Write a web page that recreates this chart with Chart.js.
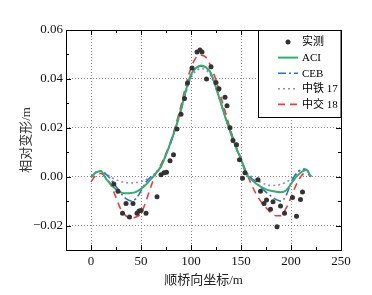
<!DOCTYPE html>
<html>
<head>
<meta charset="utf-8">
<title>相对变形</title>
<script src="https://cdn.jsdelivr.net/npm/chart.js"></script>
<style>
    body { margin: 0; background: #fff; }
    #wrap { width: 372px; height: 295px; }
</style>
</head>
<body>
<div id="wrap"><canvas id="deform" width="372" height="295"></canvas></div>
<script>
// measured points (实测)
const measuredX = [22.8, 27, 31.5, 35, 38.5, 42, 46, 48, 50, 55, 66, 70, 73, 75.5, 79, 82.5, 86, 90, 93.5, 96.5,
    101, 106, 109, 111, 115.5, 120, 125, 128, 134, 136, 139, 142, 145.5, 148.5, 151.5, 154, 167, 169.5, 173, 175.5,
    179.5, 182, 186, 189.5, 193.5, 201.5, 205.5, 209.5, 211.5];
const measuredY = [-0.003, -0.006, -0.015, -0.011, -0.0165, -0.011, -0.015, -0.014, -0.0138, -0.015, -0.0082, 0.0008,
    0.0016, 0.0018, 0.0065, 0.009, 0.0195, 0.0255, 0.032, 0.0383, 0.0445, 0.051, 0.0518, 0.051, 0.040, 0.045, 0.0385,
    0.036, 0.0325, 0.029, 0.020, 0.0148, 0.0131, 0.0069, -0.0006, 0.0016, -0.0013, -0.006, -0.011, -0.0095, -0.0133,
    -0.0103, -0.0205, -0.012, -0.015, -0.0085, -0.0162, -0.0093, -0.0063];

// computed curves, sampled along the bridge
const xNodes = [0, 5, 10, 15, 20, 25, 30, 35, 40, 45, 50, 55, 60, 65, 70, 75, 80, 85, 90, 95, 100, 105, 110,
    115, 120, 125, 130, 135, 140, 145, 150, 155, 160, 165, 170, 175, 180, 185, 190, 195, 200, 205, 210, 215, 220];
const aci = [-0.0003, 0.0017, 0.0022, -0.0008, -0.0032, -0.0052, -0.0064, -0.0068, -0.0067, -0.0062, -0.0050, -0.0032,
    -0.0010, 0.0014, 0.0042, 0.0090, 0.0145, 0.0205, 0.0275, 0.0355, 0.0418, 0.0445, 0.0455, 0.0447, 0.0423, 0.0365,
    0.0300, 0.0235, 0.0175, 0.0120, 0.0072, 0.0014, -0.0010, -0.0028, -0.0042, -0.0052, -0.0058, -0.0062, -0.0064,
    -0.0057, -0.0030, -0.0002, 0.0017, 0.0027, 0.0000];
const ceb = [-0.0002, 0.0018, 0.0023, 0.0010, -0.0012, -0.0040, -0.0068, -0.0090, -0.0099, -0.0090, -0.0058, -0.0022,
    0.0000, 0.0016, 0.0042, 0.0090, 0.0143, 0.0204, 0.0273, 0.0352, 0.0413, 0.0443, 0.0452, 0.0445, 0.0420, 0.0364,
    0.0300, 0.0235, 0.0175, 0.0119, 0.0072, 0.0018, -0.0005, -0.0022, -0.0045, -0.0063, -0.0080, -0.0093, -0.0100,
    -0.0078, -0.0025, 0.0012, 0.0028, 0.0030, 0.0000];
const zt17 = [0.0000, 0.0018, 0.0024, 0.0012, -0.0002, -0.0012, -0.0020, -0.0025, -0.0026, -0.0024, -0.0020, -0.0012,
    -0.0003, 0.0014, 0.0040, 0.0088, 0.0140, 0.0200, 0.0270, 0.0345, 0.0405, 0.0433, 0.0442, 0.0436, 0.0412, 0.0360,
    0.0298, 0.0234, 0.0175, 0.0118, 0.0072, 0.0022, 0.0002, -0.0012, -0.0024, -0.0032, -0.0036, -0.0035, -0.0031,
    -0.0022, -0.0010, 0.0008, 0.0028, 0.0032, 0.0000];
const zj18 = [-0.0021, 0.0006, 0.0013, -0.0005, -0.0035, -0.0085, -0.0135, -0.0160, -0.0170, -0.0165, -0.0150, -0.0100,
    -0.0040, 0.0015, 0.0050, 0.0095, 0.0148, 0.0215, 0.0290, 0.0375, 0.0445, 0.0487, 0.0497, 0.0488, 0.0450, 0.0395,
    0.0325, 0.0255, 0.0185, 0.0125, 0.0075, 0.0020, -0.0028, -0.0070, -0.0102, -0.0127, -0.0148, -0.0160, -0.0160,
    -0.0130, -0.0085, -0.0035, 0.0002, 0.0015, 0.0000];

const xTicks = [0, 50, 100, 150, 200, 250];
const yTicks = [-0.02, 0.00, 0.02, 0.04, 0.06];

const SERIF = "'Liberation Serif', 'Noto Sans CJK SC', serif";

const pts = (xs, ys) => xs.map((x, i) => ({ x: x, y: ys[i] }));

function curve(label, values, color, dash, width) {
    return {
        label: label,
        data: pts(xNodes, values),
        borderColor: color,
        backgroundColor: color,
        borderWidth: width,
        borderDash: dash,
        pointRadius: 0,
        fill: false,
        cubicInterpolationMode: 'monotone'
    };
}

const datasets = [
    {
        label: '实测',
        data: pts(measuredX, measuredY),
        showLine: false,
        pointRadius: 2.5,
        pointBorderWidth: 0,
        backgroundColor: '#333',
        borderColor: '#333'
    },
    curve('ACI', aci, '#35ad6c', [], 2),
    curve('CEB', ceb, '#2f6fd3', [8, 3, 2, 3], 1.6),
    curve('中铁 17', zt17, '#9a86d4', [2, 3], 1.6),
    curve('中交 18', zj18, '#ee3a40', [7, 5], 1.6)
];

// frame, inward tick marks and boxed legend
const framePlugin = {
    id: 'frame',
    afterDraw(chart) {
        const ctx = chart.ctx;
        const a = chart.chartArea;
        const xs = chart.scales.x, ys = chart.scales.y;
        ctx.save();
        ctx.strokeStyle = '#000';
        ctx.lineWidth = 1;
        ctx.setLineDash([]);
        ctx.strokeRect(Math.round(a.left) + 0.5, Math.round(a.top) + 0.5,
            Math.round(a.right - a.left), Math.round(a.bottom - a.top));

        ctx.beginPath();
        for (let v = -25; v <= 250; v += 25) {
            const px = Math.round(xs.getPixelForValue(v)) + 0.5;
            const len = v % 50 === 0 ? 5 : 3;
            ctx.moveTo(px, a.bottom); ctx.lineTo(px, a.bottom - len);
            ctx.moveTo(px, a.top); ctx.lineTo(px, a.top + len);
        }
        for (let k = -3; k <= 6; k++) {
            const py = Math.round(ys.getPixelForValue(k / 100)) + 0.5;
            const len = k % 2 === 0 ? 5 : 3;
            ctx.moveTo(a.left, py); ctx.lineTo(a.left + len, py);
            ctx.moveTo(a.right, py); ctx.lineTo(a.right - len, py);
        }
        ctx.stroke();

        // legend box
        const bx = 258.5, by = a.top + 0.5, bw = a.right - 258.5, bh = 87;
        ctx.fillStyle = '#fff';
        ctx.fillRect(bx, by, bw, bh);
        ctx.strokeRect(bx, by, bw, bh);
        ctx.font = '11px ' + SERIF;
        ctx.textBaseline = 'middle';
        chart.data.datasets.forEach((ds, i) => {
            const cy = a.top + 12 + i * 15.6;
            if (ds.showLine === false) {
                ctx.fillStyle = ds.backgroundColor;
                ctx.beginPath();
                ctx.arc(288, cy, 2.5, 0, Math.PI * 2);
                ctx.fill();
            } else {
                ctx.strokeStyle = ds.borderColor;
                ctx.lineWidth = ds.borderWidth;
                ctx.setLineDash(ds.borderDash);
                ctx.beginPath();
                ctx.moveTo(278, cy);
                ctx.lineTo(298, cy);
                ctx.stroke();
                ctx.setLineDash([]);
            }
            ctx.fillStyle = '#000';
            ctx.fillText(ds.label, 302, cy + 0.5);
        });
        ctx.restore();
    }
};

new Chart(document.getElementById('deform'), {
    type: 'line',
    data: { datasets: datasets },
    plugins: [framePlugin],
    options: {
        responsive: false,
        animation: false,
        layout: { padding: { left: 0, top: 30, right: 31, bottom: 0 } },
        plugins: { legend: { display: false }, tooltip: { enabled: false } },
        scales: {
            x: {
                type: 'linear',
                min: -25,
                max: 250,
                afterBuildTicks: s => { s.ticks = xTicks.map(v => ({ value: v })); },
                afterFit: s => { s.height = 45; },
                grid: { color: '#8a8a8a', lineWidth: 1, drawTicks: false },
                border: { display: false, dash: [1, 2] },
                ticks: {
                    padding: 4,
                    autoSkip: false,
                    maxRotation: 0,
                    color: '#111',
                    font: { family: SERIF, size: 13 },
                    callback: v => String(v)
                },
                title: {
                    display: true,
                    text: '顺桥向坐标/m',
                    color: '#222',
                    font: { family: SERIF, size: 13 },
                    padding: { top: 0, bottom: 7 }
                }
            },
            y: {
                min: -0.03,
                max: 0.06,
                afterBuildTicks: s => { s.ticks = yTicks.map(v => ({ value: v })); },
                afterFit: s => { s.width = 66; },
                grid: { color: '#8a8a8a', lineWidth: 1, drawTicks: false },
                border: { display: false, dash: [1, 2] },
                ticks: {
                    padding: 3,
                    color: '#111',
                    font: { family: SERIF, size: 13 },
                    callback: v => v.toFixed(2).replace('-', '\u2212')
                },
                title: {
                    display: true,
                    text: '相对变形/m',
                    color: '#333',
                    font: { family: SERIF, size: 13 },
                    padding: { top: 19, bottom: 0 }
                }
            }
        }
    }
});
</script>
</body>
</html>
